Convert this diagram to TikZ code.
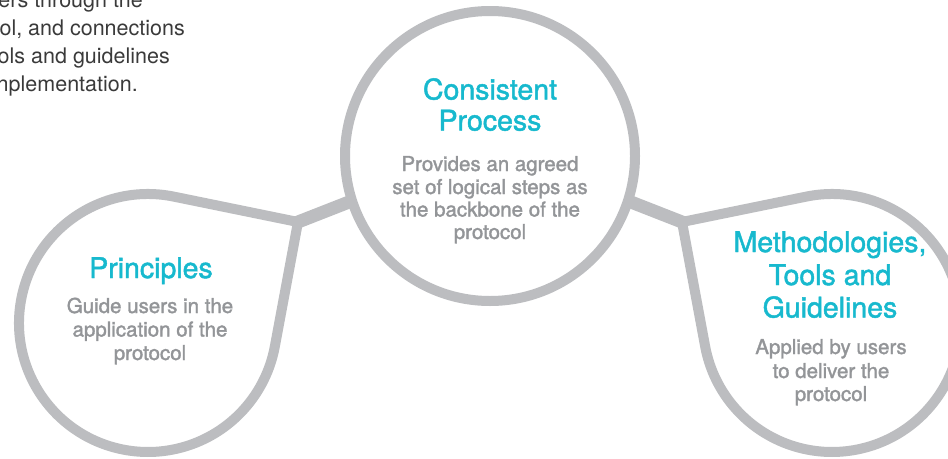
\documentclass[tikz,border=0pt]{standalone}
\usepackage{fontspec}
\setmainfont{TeX Gyre Heros}
\newfontfamily\medfont[BoldFont={TeX Gyre Heros}, BoldFeatures={FakeBold=1.6}]{TeX Gyre Heros}
\usetikzlibrary{calc}
\definecolor{ringG}{HTML}{BCBDC0}
\definecolor{cyanT}{HTML}{17B9CE}
\definecolor{bodyG}{HTML}{939598}
\definecolor{darkT}{HTML}{3A3A3A}
\begin{document}
\begin{tikzpicture}[x=1pt,y=1pt,
  ringline/.style={draw=ringG, line width=10pt, line join=miter, fill=white},
  link/.style={draw=ringG, line width=13pt},
  title/.style={anchor=base, text=cyanT, font=\medfont\bfseries\fontsize{28.5}{31}\selectfont, inner sep=0pt},
  body/.style={anchor=base, text=bodyG, font=\medfont\bfseries\fontsize{20.5}{23}\selectfont, inner sep=0pt},
  intro/.style={anchor=base east, text=darkT, font=\fontsize{21.5}{28}\selectfont, inner sep=0pt}]
\useasboundingbox (0,0) rectangle (948,-458);
\clip (0,0) rectangle (948,-458);
% key points
\coordinate (C) at (490,-156);
\coordinate (P) at (298,-222);
\coordinate (Q) at (682,-222);
\coordinate (XL) at ($(C)+(198:145pt)$);
\coordinate (XR) at ($(C)+(342:145pt)$);
% connectors
\draw[link] ($(P)!-0.2!(XL)$) -- ($(P)!1.3!(XL)$);
\draw[link] ($(Q)!-0.2!(XR)$) -- ($(Q)!1.3!(XR)$);
% left teardrop
\draw[ringline] (P) -- (173.85,-196.62) arc[start angle=78.44, end angle=349.48, radius=129pt] -- cycle;
% right teardrop
\draw[ringline] (Q) -- (806.15,-196.62) arc[start angle=101.56, end angle=-169.48, radius=129pt] -- cycle;
% central circle
\node[circle, ringline, minimum size=290pt, inner sep=0pt] (cc) at (C) {};
% intro text (cut off at the left and top edges, as in the reference)
\node[intro] (i1) at (143,-7) {ers through the};
\node[intro] (i2) at (185,-35) {ol, and connections};
\node[intro] (i3) at (170,-63) {ols and guidelines};
\node[intro] (i4) at (138,-91) {nplementation.};
% central texts
\node[title] (ct1) at (490,-99.5) {Consistent};
\node[title] (ct2) at (490,-130.5) {Process};
\node[body] (cb1) at (490,-171) {Provides an agreed};
\node[body] (cb2) at (490,-194) {set of logical steps as};
\node[body] (cb3) at (490,-216.5) {the backbone of the};
\node[body] (cb4) at (490,-239) {protocol};
% left texts
\node[title] (lt1) at (151,-278) {Principles};
\node[body] (lb1) at (150,-313) {Guide users in the};
\node[body] (lb2) at (150,-336.5) {application of the};
\node[body] (lb3) at (150,-360) {protocol};
% right texts
\node[title] (rt1) at (830,-252) {Methodologies,};
\node[title] (rt2) at (830,-285) {Tools and};
\node[title] (rt3) at (830,-317.5) {Guidelines};
\node[body] (rb1) at (831,-354) {Applied by users};
\node[body] (rb2) at (831,-378) {to deliver the};
\node[body] (rb3) at (831,-401) {protocol};
\end{tikzpicture}
\end{document}
